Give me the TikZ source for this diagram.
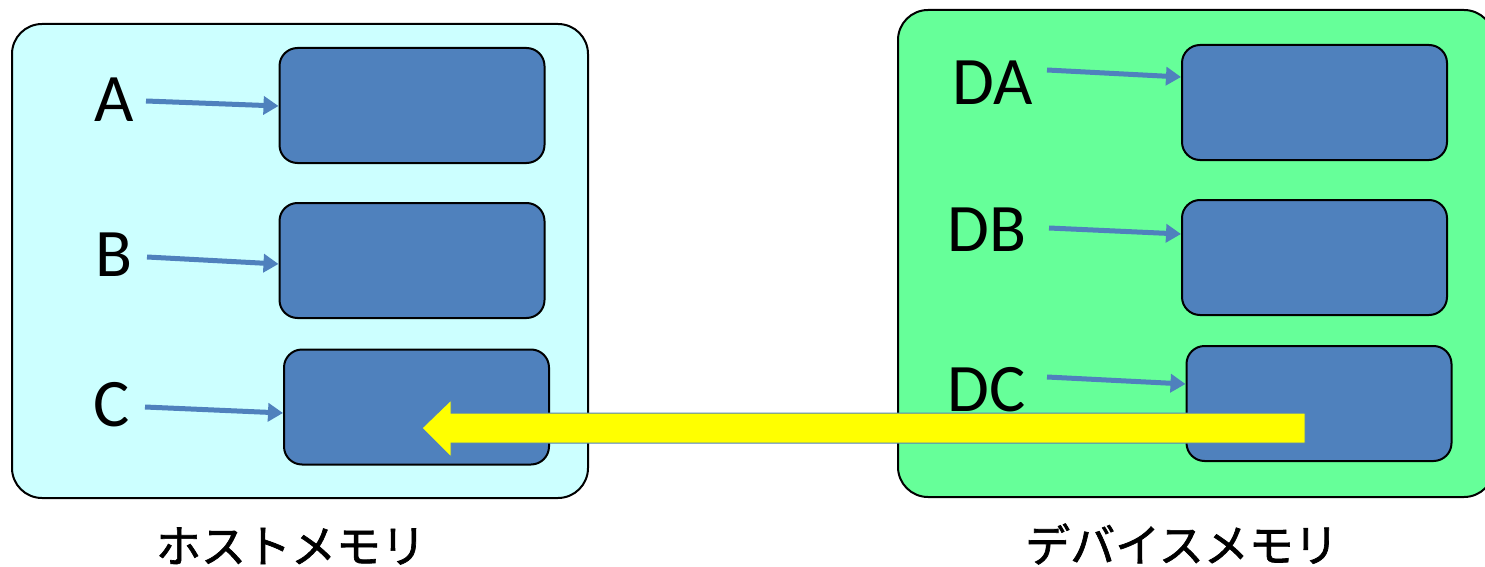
\documentclass[tikz,border=0pt]{standalone}
\usepackage{fontspec}
\setmainfont{Carlito}
\newfontfamily\jpfont[FakeBold=1.5]{Noto Sans CJK JP}
\usetikzlibrary{arrows.meta}
\definecolor{hostbg}{HTML}{CCFFFF}
\definecolor{devbg}{HTML}{66FF99}
\definecolor{boxblue}{HTML}{4F81BD}
\definecolor{arrowyellow}{HTML}{FFFF00}
\tikzset{
  container/.style={draw=black, line width=2pt, rounded corners=30pt},
  membox/.style={draw=black, line width=2pt, fill=boxblue, rounded corners=18pt, minimum width=265pt, minimum height=115pt, inner sep=0pt},
  varlabel/.style={font=\fontsize{68}{76}\selectfont, inner sep=0pt, anchor=center},
  ptr/.style={draw=boxblue, line width=5pt, -{Triangle[width=18pt,length=15pt]}},
  caption/.style={font=\jpfont\fontsize{45}{52}\selectfont, inner sep=0pt},
}
\begin{document}
\begin{tikzpicture}[x=1pt,y=-1pt]
\useasboundingbox (0,0) rectangle (1485,567);
% containers
\draw[container, fill=hostbg] (12,24) rectangle (588,498);
\draw[container, fill=devbg] (898,10) rectangle (1494,497);
% host boxes
\node[membox] (A) at (412,105.5) {};
\node[membox] (B) at (412,260.5) {};
\node[membox] (C) at (416.5,407) {};
% device boxes
\node[membox] (DA) at (1314.5,102.5) {};
\node[membox] (DB) at (1314.5,257.5) {};
\node[membox] (DC) at (1319,403.5) {};
% labels
\node[varlabel] (la) at (114,100) {A};
\node[varlabel] (lb) at (114,255) {B};
\node[varlabel] (lc) at (112,405) {C};
\node[varlabel] (lda) at (993,83) {DA};
\node[varlabel] (ldb) at (987,230) {DB};
\node[varlabel] (ldc) at (987,390) {DC};
% pointer arrows
\coordinate (sa) at (146,101);
\coordinate (sb) at (147,257);
\coordinate (sc) at (145,407);
\coordinate (sda) at (1047,70);
\coordinate (sdb) at (1049,228);
\coordinate (sdc) at (1047,377);
\draw[ptr] (sa) -- (A.west |- 0,106);
\draw[ptr] (sb) -- (B.west |- 0,264);
\draw[ptr] (sc) -- (C.west |- 0,413);
\draw[ptr] (sda) -- (DA.west |- 0,77);
\draw[ptr] (sdb) -- (DB.west |- 0,234);
\draw[ptr] (sdc) -- (DC.west |- 0,384);
% yellow transfer arrow
\coordinate (ystart) at (1305,428);
\coordinate (yend) at (422,428);
\draw[draw=boxblue, line width=1pt, fill=arrowyellow]
  (ystart) ++(0,-15) -- (451,413) -- (451,400) -- (yend) -- (451,457) -- (451,443) -- (1305,443) -- cycle;
% captions
\node[caption] (hcap) at (291,546) {ホストメモリ};
\node[caption] (dcap) at (1182,544) {デバイスメモリ};
\end{tikzpicture}
\end{document}
